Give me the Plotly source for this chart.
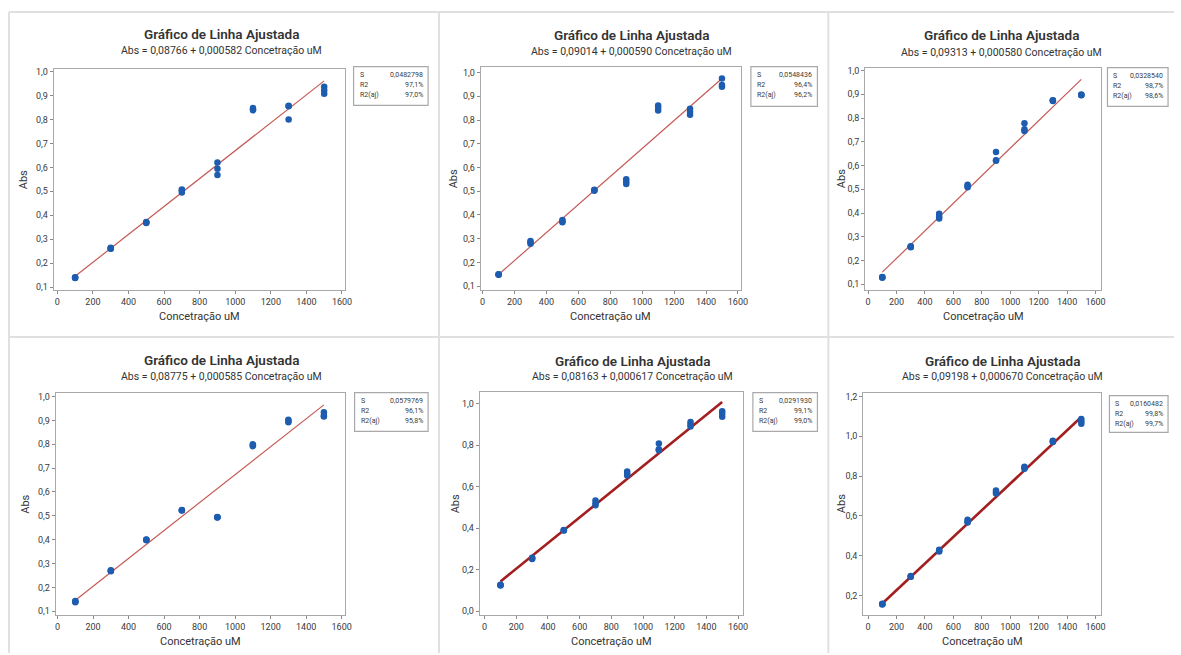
import plotly.graph_objects as go

W, H = 1181, 655

# ---------------- data ----------------
conc = [100, 100, 100, 300, 300, 300, 500, 500, 500, 700, 700, 700,
        900, 900, 900, 1100, 1100, 1100, 1300, 1300, 1300, 1500, 1500, 1500]

abs_1 = [0.140, 0.138, 0.142, 0.260, 0.262, 0.265, 0.370, 0.368, 0.372, 0.495, 0.505, 0.508,
         0.620, 0.594, 0.568, 0.848, 0.838, 0.842, 0.855, 0.857, 0.800, 0.936, 0.922, 0.907]
abs_2 = [0.149, 0.150, 0.148, 0.290, 0.279, 0.285, 0.379, 0.369, 0.374, 0.504, 0.506, 0.502,
         0.550, 0.530, 0.540, 0.861, 0.840, 0.852, 0.847, 0.822, 0.835, 0.975, 0.947, 0.940]
abs_3 = [0.130, 0.128, 0.131, 0.258, 0.260, 0.256, 0.397, 0.377, 0.385, 0.519, 0.509, 0.514,
         0.657, 0.620, 0.622, 0.778, 0.753, 0.746, 0.874, 0.872, 0.875, 0.897, 0.899, 0.896]
abs_4 = [0.141, 0.138, 0.143, 0.270, 0.268, 0.272, 0.400, 0.398, 0.401, 0.525, 0.522, 0.523,
         0.494, 0.493, 0.495, 0.796, 0.792, 0.800, 0.903, 0.892, 0.898, 0.934, 0.917, 0.920]
abs_5 = [0.124, 0.126, 0.128, 0.258, 0.252, 0.255, 0.390, 0.389, 0.391, 0.533, 0.510, 0.520,
         0.672, 0.653, 0.662, 0.807, 0.780, 0.775, 0.911, 0.889, 0.900, 0.963, 0.936, 0.950]
abs_6 = [0.158, 0.154, 0.156, 0.297, 0.295, 0.293, 0.430, 0.420, 0.424, 0.580, 0.567, 0.572,
         0.728, 0.713, 0.720, 0.847, 0.837, 0.842, 0.978, 0.975, 0.972, 1.087, 1.063, 1.075]

intercepts = [0.08766, 0.09014, 0.09313, 0.08775, 0.08163, 0.09198]
slopes = [0.000582, 0.000590, 0.000580, 0.000585, 0.000617, 0.000670]
fit_x = [100, 1500]

subtitles = ["Abs = 0,08766 + 0,000582 Concetração uM",
             "Abs = 0,09014 + 0,000590 Concetração uM",
             "Abs = 0,09313 + 0,000580 Concetração uM",
             "Abs = 0,08775 + 0,000585 Concetração uM",
             "Abs = 0,08163 + 0,000617 Concetração uM",
             "Abs = 0,09198 + 0,000670 Concetração uM"]
s_vals = ["0,0482798", "0,0548436", "0,0328540", "0,0579769", "0,0291930", "0,0160482"]
r2_vals = ["97,1%", "96,4%", "98,7%", "96,1%", "99,1%", "99,8%"]
r2aj_vals = ["97,0%", "96,2%", "98,6%", "95,8%", "99,0%", "99,7%"]

title_text = "Gráfico de Linha Ajustada"
xlabel = "Concetração uM"
ylabel = "Abs"
x_ticks = [0, 200, 400, 600, 800, 1000, 1200, 1400, 1600]

# ---------------- layout geometry (pixels) ----------------
boxes = [(53, 346, 67, 290), (483, 745, 65, 290), (870, 1108, 66, 290),
         (55, 346, 393, 617), (482, 747, 392, 617), (868, 1108, 393, 617)]
xranges = [(-20.7, 1615), (-12, 1619), (-21, 1642), (-11, 1617), (-31, 1631), (-35, 1642)]
yranges = [(0.0875, 1.012), (0.083, 1.025), (0.075, 1.0126), (0.0833, 1.0167), (-0.019, 1.057), (0.1, 1.22)]
ytick_sets = [[0.1 * i for i in range(1, 11)]] * 4 + [[0.0, 0.2, 0.4, 0.6, 0.8, 1.0], [0.2, 0.4, 0.6, 0.8, 1.0, 1.2]]
legend_boxes = [(355, 430, 65, 104), (755, 822, 65, 105), (1114, 1175, 66, 105),
                (356, 430, 393, 432), (757, 822, 393, 432), (1116, 1175, 396, 433)]
title_cx = [222, 635, 1007, 222, 636, 1008]
title_y = [32, 33, 33, 360, 361, 361]
sub_y = [49, 50, 51, 377, 377, 377]
ylab_x = [23, 455, 847, 25, 458, 847]
line_styles = [("#c45a55", 1.2)] * 4 + [("#a31f1f", 2.6)] * 2

series = [abs_1, abs_2, abs_3, abs_4, abs_5, abs_6]

FONT = "Roboto"
TXT = "#3a3a3a"


def px(x):
    return x / W


def py(y):
    return 1 - y / H


fig = go.Figure()
annotations = []
shapes = []

for i in range(6):
    n = "" if i == 0 else str(i + 1)
    xa, ya = "x" + n, "y" + n
    L, R, T, B = boxes[i]
    col, lw = line_styles[i]
    fit_y = [intercepts[i] + slopes[i] * v for v in fit_x]
    fig.add_trace(go.Scatter(x=fit_x, y=fit_y, mode="lines", xaxis=xa, yaxis=ya,
                             line=dict(color=col, width=lw), showlegend=False, hoverinfo="skip"))
    fig.add_trace(go.Scatter(x=conc, y=series[i], mode="markers", xaxis=xa, yaxis=ya,
                             marker=dict(color="#1d5cae", size=6.5), showlegend=False))
    axis_common = dict(showline=True, linecolor="#a9a9a9", linewidth=1, mirror=True,
                       showgrid=False, zeroline=False, ticks="outside", ticklen=3,
                       tickcolor="#8a8a8a", tickfont=dict(family=FONT, size=9, color=TXT))
    fig.layout["xaxis" + n] = dict(domain=[px(L), px(R)], range=list(xranges[i]),
                                   anchor=ya, tickvals=x_ticks, **axis_common)
    fig.layout["yaxis" + n] = dict(domain=[py(B), py(T)], range=list(yranges[i]),
                                   anchor=xa, tickvals=ytick_sets[i], tickformat=".1f", **axis_common)

    annotations.append(dict(x=px(title_cx[i]), y=py(title_y[i]), xref="paper", yref="paper",
                            text=title_text, showarrow=False, xanchor="center", yanchor="middle",
                            font=dict(family=FONT, size=13.5, color="#333333", weight=600)))
    annotations.append(dict(x=px(title_cx[i]), y=py(sub_y[i]), xref="paper", yref="paper",
                            text=subtitles[i], showarrow=False, xanchor="center", yanchor="middle",
                            font=dict(family=FONT, size=10.5, color="#333333")))
    annotations.append(dict(x=px((L + R) / 2), y=py(B + 26), xref="paper", yref="paper",
                            text=xlabel, showarrow=False, xanchor="center", yanchor="middle",
                            font=dict(family=FONT, size=11, color="#333333")))
    annotations.append(dict(x=px(ylab_x[i]), y=py((T + B) / 2), xref="paper", yref="paper",
                            text=ylabel, showarrow=False, xanchor="center", yanchor="middle",
                            textangle=-90, font=dict(family=FONT, size=11, color="#333333")))
    lL, lR, lT, lB = legend_boxes[i]
    shapes.append(dict(type="rect", xref="paper", yref="paper", x0=px(lL), x1=px(lR),
                       y0=py(lB), y1=py(lT), line=dict(color="#a9a9a9", width=1.2),
                       fillcolor="white"))
    rows = [("S", s_vals[i]), ("R2", r2_vals[i]), ("R2(aj)", r2aj_vals[i])]
    for k, (lab, val) in enumerate(rows):
        yy = lT + 8 + k * 10.5
        annotations.append(dict(x=px(lL + 4), y=py(yy), xref="paper", yref="paper", text=lab,
                                showarrow=False, xanchor="left", yanchor="middle",
                                font=dict(family=FONT, size=7, color=TXT)))
        annotations.append(dict(x=px(lR - 3), y=py(yy), xref="paper", yref="paper", text=val,
                                showarrow=False, xanchor="right", yanchor="middle",
                                font=dict(family=FONT, size=7, color=TXT)))

sep = "#e0e0e0"
for (x0, y0, x1, y1) in [(8, 10, W, 10), (8, 10, 8, H), (441, 10, 441, H),
                         (833, 10, 833, H), (8, 337, W, 337)]:
    shapes.append(dict(type="line", xref="paper", yref="paper", x0=px(x0), x1=px(x1),
                       y0=py(y0), y1=py(y1), line=dict(color=sep, width=2)))

fig.update_layout(width=W, height=H, margin=dict(l=0, r=0, t=0, b=0),
                  paper_bgcolor="white", plot_bgcolor="white",
                  separators=",.", annotations=annotations, shapes=shapes,
                  showlegend=False, font=dict(family=FONT))

fig.write_html("out.html", config={"displayModeBar": False},
               post_script="document.body.style.margin='0';document.body.style.overflow='hidden';")
